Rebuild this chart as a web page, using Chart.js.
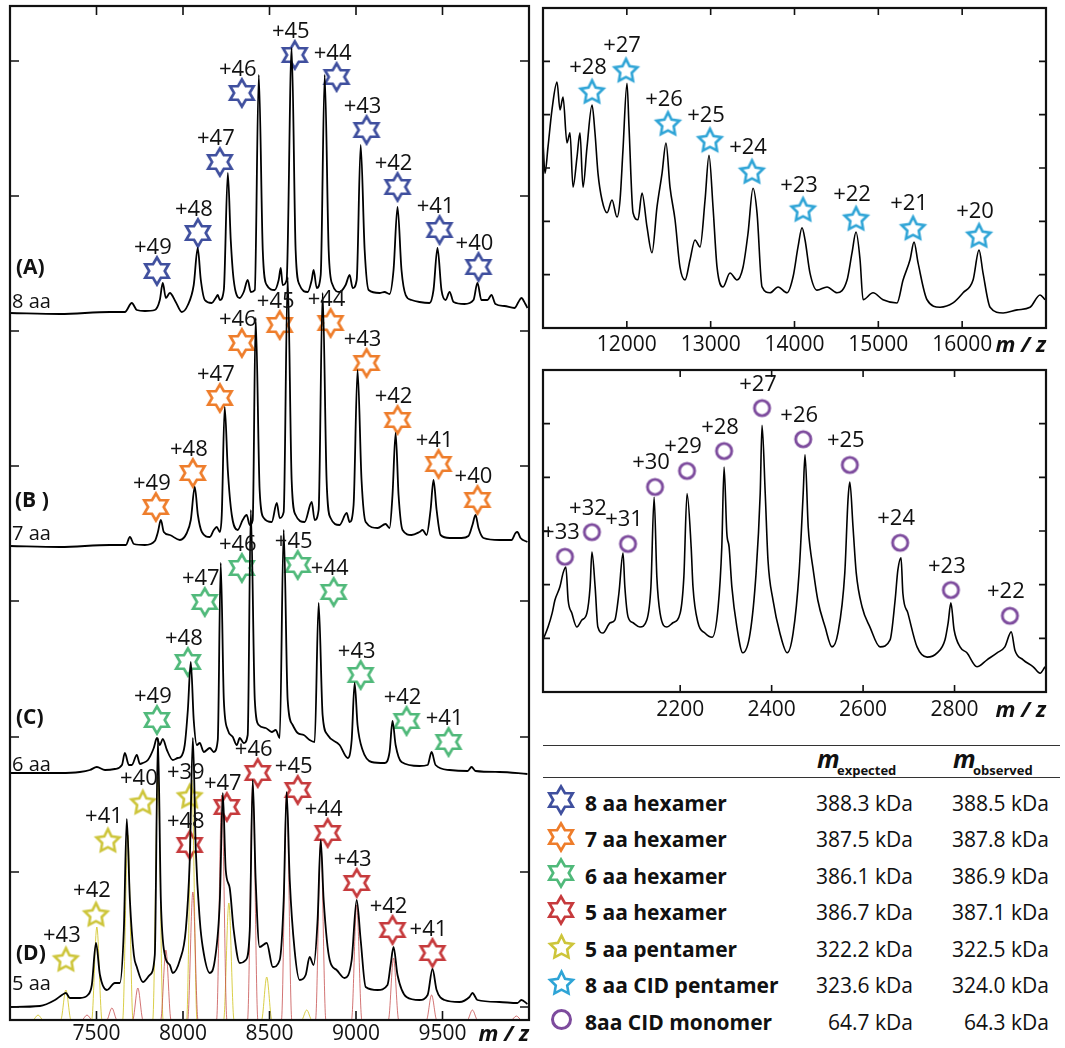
<!DOCTYPE html>
<html>
<head>
<meta charset="utf-8">
<script src="https://cdn.jsdelivr.net/npm/chart.js@4.4.1/dist/chart.umd.min.js"></script>
<style>
  html, body { margin: 0; padding: 0; background: #fff; }
  body { width: 1065px; height: 1048px; position: relative; overflow: hidden; font-family: 'Open Sans', sans-serif; color: #111; }
  canvas { position: absolute; }
  #cLeft { left: 0; top: 0; }
  #cE { left: 530px; top: 0; }
  #cF { left: 530px; top: 362px; }
  .rule { position: absolute; left: 543px; width: 517px; height: 0; border-top: 1.6px solid #333; }
  .txt { position: absolute; white-space: nowrap; line-height: 1; }
</style>
</head>
<body>
<canvas id="cLeft" width="540" height="1048"></canvas>
<canvas id="cE" width="535" height="362"></canvas>
<canvas id="cF" width="535" height="362"></canvas>
<div id="table"></div>

<script>
// ---------------- data (m/z, intensity a.u.) ----------------
// stacked spectra of the left panel, intensity relative to each trace's own baseline
const spectrumA = [[7000,0],[7289,-1],[7577,1],[7664,1],[7704,10],[7733,3],[7780,2],[7837,3],[7866,13],[7883,30],[7901,15],[7924,20],[7958,11],[7993,1],[8028,8],[8062,28],[8085,65],[8103,33],[8126,13],[8166,10],[8189,15],[8201,18],[8213,13],[8236,23],[8259,140],[8276,73],[8293,33],[8328,15],[8351,21],[8374,33],[8392,21],[8415,23],[8438,238],[8461,63],[8484,28],[8530,23],[8553,33],[8565,45],[8576,28],[8599,33],[8628,265],[8651,63],[8674,28],[8721,21],[8744,33],[8755,43],[8773,25],[8796,38],[8819,238],[8842,63],[8865,28],[8905,21],[8940,28],[8963,38],[8981,25],[9004,33],[9027,168],[9050,63],[9073,23],[9136,20],[9165,21],[9194,19],[9217,43],[9240,106],[9263,43],[9287,18],[9321,13],[9367,11],[9425,10],[9448,23],[9471,65],[9494,23],[9518,13],[9541,21],[9564,11],[9627,9],[9679,13],[9702,30],[9725,13],[9760,13],[9783,18],[9806,9],[9858,7],[9916,5],[9939,11],[9956,15],[9979,9],[9991,5]];
const spectrumB = [[7000,0],[7289,-1],[7577,1],[7670,1],[7693,9],[7716,2],[7780,1],[7837,5],[7855,14],[7872,26],[7889,14],[7924,11],[7982,6],[8022,13],[8045,26],[8068,59],[8086,31],[8109,14],[8155,9],[8178,16],[8195,19],[8213,14],[8224,31],[8241,139],[8259,76],[8282,31],[8316,16],[8345,26],[8368,31],[8386,21],[8403,26],[8420,228],[8443,56],[8467,28],[8513,24],[8542,43],[8559,28],[8582,34],[8605,269],[8628,66],[8651,31],[8703,24],[8744,44],[8761,26],[8784,36],[8807,253],[8830,66],[8853,28],[8905,21],[8946,33],[8963,24],[8986,41],[9009,176],[9032,66],[9056,24],[9125,18],[9171,22],[9194,18],[9211,51],[9229,113],[9246,51],[9269,16],[9321,11],[9367,14],[9385,16],[9408,11],[9431,36],[9448,66],[9466,36],[9489,11],[9541,8],[9610,8],[9650,10],[9673,21],[9691,31],[9708,18],[9737,8],[9829,6],[9899,6],[9922,13],[9933,14],[9951,8],[9991,4]];
const spectrumC = [[7000,0],[7289,0],[7404,1],[7462,3],[7502,6],[7549,3],[7606,4],[7647,8],[7664,20],[7687,8],[7704,8],[7733,18],[7751,9],[7768,10],[7797,13],[7831,25],[7849,35],[7866,28],[7883,34],[7907,23],[7941,13],[7970,15],[7987,16],[8010,28],[8028,63],[8045,111],[8062,53],[8080,28],[8097,30],[8120,21],[8155,25],[8178,21],[8201,33],[8218,210],[8236,73],[8259,43],[8288,36],[8311,28],[8328,35],[8351,30],[8374,38],[8392,263],[8415,73],[8438,48],[8478,45],[8513,41],[8536,43],[8559,35],[8582,243],[8605,73],[8634,48],[8663,40],[8698,38],[8732,33],[8761,31],[8784,170],[8807,58],[8836,38],[8905,28],[8952,15],[8975,33],[8992,90],[9009,48],[9038,23],[9090,11],[9165,10],[9194,21],[9211,52],[9229,28],[9263,11],[9367,7],[9414,8],[9437,21],[9460,8],[9541,3],[9645,2],[9668,6],[9691,2],[9829,1],[9991,-1]];
const spectrumD = [[7000,0],[7173,1],[7260,7],[7300,12],[7323,14],[7346,9],[7404,9],[7450,12],[7473,22],[7497,64],[7520,32],[7560,17],[7606,24],[7635,24],[7658,77],[7675,188],[7693,107],[7716,52],[7733,40],[7768,25],[7808,32],[7837,52],[7855,269],[7872,107],[7895,52],[7924,42],[7941,34],[7982,47],[8016,77],[8039,147],[8057,269],[8074,157],[8097,87],[8114,60],[8155,34],[8184,47],[8213,107],[8230,214],[8247,137],[8270,119],[8293,77],[8328,44],[8363,47],[8386,77],[8403,227],[8420,127],[8443,60],[8484,64],[8519,40],[8559,47],[8582,107],[8599,215],[8617,127],[8645,57],[8674,27],[8709,32],[8732,50],[8755,42],[8778,87],[8796,167],[8813,107],[8848,47],[8888,37],[8934,29],[8975,47],[9004,107],[9027,67],[9056,20],[9125,17],[9182,22],[9200,42],[9217,60],[9240,32],[9292,10],[9367,7],[9414,12],[9442,38],[9466,17],[9512,7],[9598,5],[9656,10],[9673,14],[9702,7],[9829,5],[9933,4],[9956,7],[9991,3]];

// simulated peaks under spectrum D
const pentSimMz  = [7162, 7323, 7502, 7681, 7855, 8051, 8265, 8484, 8715];
const pentSimInt = [5, 30, 93, 185, 243, 240, 117, 43, 10];
const hexSimMz   = [7445, 7589, 7739, 7901, 8057, 8224, 8403, 8599, 8796, 9004, 9217, 9437, 9673, 9927];
const hexSimInt  = [5, 12, 32, 70, 128, 225, 235, 228, 180, 115, 62, 25, 10, 4];

// charge-state markers (m/z, height above the trace baseline)
const chargesA = [49, 48, 47, 46, 45, 44, 43, 42, 41, 40];
const starMzA  = [7849, 8086, 8213, 8340, 8646, 8888, 9061, 9240, 9483, 9708];
const starHA   = [42, 80, 151, 220, 258, 236, 183, 126, 83, 46];
const chargesB = [49, 48, 47, 46, 45, 44, 43, 42, 41, 40];
const starMzB  = [7843, 8057, 8213, 8340, 8559, 8853, 9061, 9240, 9477, 9702];
const starHB   = [39, 73, 148, 203, 221, 223, 183, 126, 82, 46];
const chargesC = [49, 48, 47, 46, 45, 44, 43, 42, 41];
const starMzC  = [7849, 8028, 8126, 8340, 8663, 8871, 9027, 9292, 9535];
const starHC   = [53, 111, 171, 205, 208, 181, 98, 52, 31];
const chargesDhex = [48, 47, 46, 45, 44, 43, 42, 41];
const starMzDhex  = [8039, 8253, 8432, 8663, 8836, 9004, 9211, 9442];
const starHDhex   = [162, 200, 234, 217, 174, 124, 77, 54];
const chargesDpent = [43, 42, 41, 40, 39];
const starMzDpent  = [7323, 7497, 7566, 7768, 8039];
const starHDpent   = [48, 93, 167, 205, 211];

// panel E (CID pentamer)
const spectrumE = [[11000,3.47],[11024,2.9],[11060,3.4],[11107,4.09],[11167,4.61],[11203,4.09],[11239,4.33],[11286,3.47],[11322,3.66],[11358,2.64],[11406,3.21],[11441,3.66],[11477,2.64],[11525,3.39],[11585,4.18],[11620,3.66],[11656,2.9],[11704,2.4],[11764,2.16],[11823,2.4],[11883,2.08],[11919,2.4],[11954,3.34],[12002,4.59],[12026,3.77],[12074,2.16],[12133,2.03],[12181,2.53],[12241,1.89],[12300,1.41],[12360,2.27],[12420,2.9],[12467,3.47],[12515,2.64],[12575,2.03],[12634,1.14],[12694,0.9],[12754,1.28],[12813,1.65],[12873,1.52],[12933,2.4],[12980,3.24],[13028,2.27],[13076,1.14],[13147,0.77],[13231,1.03],[13314,0.9],[13386,1.14],[13446,1.78],[13505,2.62],[13553,2.16],[13613,0.77],[13708,0.66],[13804,0.77],[13911,0.66],[13983,0.96],[14042,1.52],[14090,1.88],[14126,1.65],[14185,1.03],[14269,0.71],[14388,0.77],[14507,0.66],[14627,0.9],[14686,1.41],[14734,1.8],[14782,1.28],[14818,0.53],[14937,0.66],[15056,0.53],[15223,0.47],[15295,0.9],[15378,1.28],[15426,1.61],[15474,1.22],[15581,0.53],[15736,0.39],[15891,0.47],[16011,0.66],[16130,0.9],[16201,1.46],[16249,1.03],[16333,0.39],[16488,0.28],[16655,0.34],[16810,0.39],[16929,0.62],[16989,0.53]];
const chargesE = [28, 27, 26, 25, 24, 23, 22, 21, 20];
const starMzE  = [11585, 11990, 12491, 12992, 13493, 14102, 14734, 15414, 16201];
const starYE   = [4.44, 4.84, 3.84, 3.53, 2.94, 2.23, 2.06, 1.88, 1.74];

// panel F (CID monomer)
const spectrumF = [[1900,0.97],[1911,1.21],[1920,1.47],[1926,1.71],[1937,1.96],[1944,2.22],[1950,2.33],[1955,1.71],[1963,1.47],[1974,1.21],[1985,1.34],[1996,1.47],[2003,1.96],[2007,2.61],[2014,1.96],[2020,1.21],[2031,1.1],[2047,1.29],[2057,1.34],[2066,1.84],[2075,2.59],[2079,1.96],[2086,1.4],[2097,1.29],[2112,1.21],[2127,1.34],[2136,1.96],[2143,3.63],[2149,2.14],[2156,1.47],[2171,1.21],[2184,1.29],[2200,1.47],[2208,2.14],[2215,3.7],[2224,2.7],[2228,1.96],[2239,1.29],[2254,1.1],[2270,1.02],[2283,1.58],[2291,2.7],[2296,4.19],[2302,2.96],[2307,2.7],[2313,1.96],[2324,1.21],[2337,0.73],[2353,1.1],[2366,2.22],[2375,3.7],[2379,4.97],[2386,3.7],[2392,2.46],[2403,1.71],[2418,1.1],[2434,0.73],[2447,1.1],[2460,2.22],[2469,3.7],[2473,4.42],[2480,3.07],[2484,2.7],[2490,2.33],[2501,1.71],[2517,1.21],[2532,0.84],[2545,1.1],[2560,2.22],[2567,3.58],[2571,3.91],[2578,3.07],[2585,2.22],[2598,1.58],[2615,1.21],[2637,0.84],[2659,0.97],[2670,1.71],[2676,2.27],[2683,2.5],[2687,1.84],[2698,1.47],[2718,0.84],[2740,0.65],[2762,0.73],[2779,0.97],[2786,1.29],[2792,1.66],[2799,1.16],[2812,0.84],[2827,0.73],[2849,0.47],[2871,0.6],[2893,0.73],[2910,0.84],[2924,1.12],[2932,0.78],[2950,0.6],[2972,0.47],[2987,0.35],[2998,0.47]];
const chargesF = [33, 32, 31, 30, 29, 28, 27, 26, 25, 24, 23, 22];
const circleMzF = [1948, 2007, 2086, 2145, 2215, 2296, 2379, 2469, 2571, 2681, 2792, 2921];
const circleYF  = [2.52, 2.98, 2.76, 3.82, 4.12, 4.49, 5.29, 4.71, 4.23, 2.78, 1.9, 1.42];

// unlabeled y ticks of the left panel (a.u.)
const leftYTicks = [0, 135, 270, 406, 541, 676, 811, 946];

// table
const legendNames   = ['8 aa hexamer', '7 aa hexamer', '6 aa hexamer', '5 aa hexamer', '5 aa pentamer', '8 aa CID pentamer', '8aa CID monomer'];
const massExpected  = ['388.3 kDa', '387.5 kDa', '386.1 kDa', '386.7 kDa', '322.2 kDa', '323.6 kDa', '64.7 kDa'];
const massObserved  = ['388.5 kDa', '387.8 kDa', '386.9 kDa', '387.1 kDa', '322.5 kDa', '324.0 kDa', '64.3 kDa'];

// ---------------- style ----------------
const FONT = "'Open Sans', sans-serif";
const COLORS = {
  blue: '#3f4f9e', orange: '#ee7d2b', green: '#50b97a', red: '#c63a3c',
  yellow: '#cdc53a', cyan: '#2ea4d6', purple: '#7d4b9d'
};
const stackOffset = { A: 694, B: 461, C: 234, D: 0, sim: -13 };
const SIM_HALF_WIDTH = 30;

function makeMarker(shape, color, R, lw) {
  const size = Math.ceil(2 * R + lw + 4);
  const c = document.createElement('canvas');
  c.width = c.height = size;
  const g = c.getContext('2d');
  g.translate(size / 2, size / 2 + (shape === 'pent' ? R * 0.1 : 0));
  g.strokeStyle = color;
  g.lineWidth = lw;
  g.lineJoin = 'miter';
  g.beginPath();
  if (shape === 'circle') {
    g.arc(0, 0, R, 0, Math.PI * 2);
  } else {
    const n = shape === 'hex' ? 6 : 5;
    const r = shape === 'hex' ? R / Math.sqrt(3) : R * 0.5;
    for (let k = 0; k < 2 * n; k++) {
      const ang = -Math.PI / 2 + k * Math.PI / n;
      const rr = k % 2 ? r : R;
      g.lineTo(rr * Math.cos(ang), rr * Math.sin(ang));
    }
    g.closePath();
  }
  g.stroke();
  return c;
}

function toPoints(pairs, offset) {
  return pairs.map(p => ({ x: p[0], y: p[1] + (offset || 0) }));
}

function simLine(mz, h, base, xmin, xmax) {
  const pts = [{ x: xmin, y: base }];
  mz.forEach((m, i) => {
    pts.push({ x: m - SIM_HALF_WIDTH, y: base }, { x: m, y: base + h[i] }, { x: m + SIM_HALF_WIDTH, y: base });
  });
  pts.push({ x: xmax, y: base });
  return pts;
}

function traceDs(points, color, width, order) {
  return {
    type: 'line', data: points, borderColor: color, borderWidth: width,
    pointRadius: 0, fill: false, order,
    cubicInterpolationMode: 'monotone', borderJoinStyle: 'round'
  };
}

function markerDs(xs, ys, labels, marker) {
  return {
    type: 'line', data: xs.map((x, i) => ({ x, y: ys[i] })), showLine: false,
    pointStyle: marker, pointRadius: 5, chargeLabels: labels, order: 10
  };
}

function xAxis(min, max, step, height, pad) {
  return {
    type: 'linear', min, max,
    grid: { display: false, drawTicks: false }, border: { display: false },
    ticks: {
      stepSize: step, color: '#111', padding: pad, maxRotation: 0, autoSkip: false,
      font: { family: FONT, size: 21 }, callback: v => String(v)
    },
    afterBuildTicks: s => { s.ticks = s.ticks.filter(t => t.value > min && t.value < max); },
    afterFit: s => { s.height = height; }
  };
}

function yAxis(min, max, step, fixedTicks) {
  return {
    type: 'linear', min, max,
    grid: { display: false, drawTicks: false }, border: { display: false },
    ticks: { display: false, stepSize: step },
    afterBuildTicks: s => {
      s.ticks = fixedTicks ? fixedTicks.map(v => ({ value: v }))
                           : s.ticks.filter(t => t.value > min && t.value < max);
    },
    afterFit: s => { s.width = 0; }
  };
}

// frame, inward ticks, unit label, charge labels and panel texts
function decor(cfg) {
  return {
    id: 'decor',
    afterDatasetsDraw(chart) {
      const { ctx, chartArea: a, scales: { x, y } } = chart;
      ctx.save();
      ctx.strokeStyle = '#111';
      ctx.lineWidth = 1.6;
      ctx.beginPath();
      x.ticks.forEach(t => {
        const px = x.getPixelForValue(t.value);
        ctx.moveTo(px, a.top); ctx.lineTo(px, a.top + cfg.tick);
        ctx.moveTo(px, a.bottom); ctx.lineTo(px, a.bottom - cfg.tick);
      });
      y.ticks.forEach(t => {
        const py = y.getPixelForValue(t.value);
        ctx.moveTo(a.left, py); ctx.lineTo(a.left + cfg.tick, py);
        ctx.moveTo(a.right, py); ctx.lineTo(a.right - cfg.tick, py);
      });
      ctx.stroke();
      ctx.lineWidth = 2.2;
      ctx.strokeRect(a.left, a.top, a.right - a.left, a.bottom - a.top);

      ctx.fillStyle = '#111';
      ctx.textBaseline = 'alphabetic';
      // charge labels above the markers
      ctx.font = '22px ' + FONT;
      ctx.textAlign = 'center';
      chart.data.datasets.forEach((ds, i) => {
        if (!ds.chargeLabels) return;
        chart.getDatasetMeta(i).data.forEach((el, k) => {
          ctx.fillText('+' + ds.chargeLabels[k], el.x - 4, el.y - 17.5);
        });
      });
      // unit
      ctx.font = 'italic 700 22px ' + FONT;
      ctx.textAlign = 'right';
      ctx.fillText('m / z', a.right, a.bottom + cfg.unitBaseline);
      // panel texts
      ctx.textAlign = 'left';
      (cfg.texts || []).forEach(t => {
        ctx.font = (t.bold ? '700 ' : '') + t.size + 'px ' + FONT;
        ctx.fillText(t.text, t.x, t.y);
      });
      ctx.restore();
    }
  };
}

const baseOptions = {
  responsive: false, animation: false, events: [],
  plugins: { legend: { display: false }, tooltip: { enabled: false } }
};

const hexMarker = c => makeMarker('hex', c, 13.5, 2.7);
const pentMarker = c => makeMarker('pent', c, 12, 2.6);
const ys = (h, off) => h.map(v => v + off);

// ---------------- left panel ----------------
const charts = [];
charts.push(new Chart(document.getElementById('cLeft'), {
  type: 'line',
  data: {
    datasets: [
      markerDs(starMzA, ys(starHA, stackOffset.A), chargesA, hexMarker(COLORS.blue)),
      markerDs(starMzB, ys(starHB, stackOffset.B), chargesB, hexMarker(COLORS.orange)),
      markerDs(starMzC, ys(starHC, stackOffset.C), chargesC, hexMarker(COLORS.green)),
      markerDs(starMzDhex, ys(starHDhex, stackOffset.D), chargesDhex, hexMarker(COLORS.red)),
      markerDs(starMzDpent, ys(starHDpent, stackOffset.D), chargesDpent, pentMarker(COLORS.yellow)),
      traceDs(simLine(pentSimMz, pentSimInt, stackOffset.sim, 7000, 10000), 'rgba(210,198,40,0.85)', 1, 5),
      traceDs(simLine(hexSimMz, hexSimInt, stackOffset.sim, 7000, 10000), 'rgba(195,70,70,0.75)', 1, 4),
      traceDs(toPoints(spectrumD, stackOffset.D), '#000', 1.8, 1),
      traceDs(toPoints(spectrumC, stackOffset.C), '#000', 1.8, 1),
      traceDs(toPoints(spectrumB, stackOffset.B), '#000', 1.8, 1),
      traceDs(toPoints(spectrumA, stackOffset.A), '#000', 1.8, 1)
    ]
  },
  options: Object.assign({}, baseOptions, {
    layout: { padding: { left: 10, top: 6, right: 11, bottom: 0 } },
    scales: { x: xAxis(7000, 10000, 500, 28, 1.5), y: yAxis(-13, 1001, 135, leftYTicks) }
  }),
  plugins: [decor({
    tick: 9, unitBaseline: 21,
    texts: [
      { text: '(A)', x: 16, y: 274, size: 21, bold: true },
      { text: '8 aa', x: 12, y: 308, size: 20 },
      { text: '(B )', x: 15, y: 507, size: 21, bold: true },
      { text: '7 aa', x: 12, y: 540, size: 20 },
      { text: '(C)', x: 16, y: 724, size: 21, bold: true },
      { text: '6 aa', x: 12, y: 771, size: 20 },
      { text: '(D)', x: 16, y: 960, size: 21, bold: true },
      { text: '5 aa', x: 12, y: 990, size: 20 }
    ]
  })]
}));

// ---------------- panel E ----------------
charts.push(new Chart(document.getElementById('cE'), {
  type: 'line',
  data: {
    datasets: [
      markerDs(starMzE, starYE, chargesE, pentMarker(COLORS.cyan)),
      traceDs(toPoints(spectrumE), '#000', 1.6, 1)
    ]
  },
  options: Object.assign({}, baseOptions, {
    layout: { padding: { left: 13, top: 8, right: 19, bottom: 0 } },
    scales: { x: xAxis(11000, 17000, 1000, 34, 4), y: yAxis(0, 6, 1) }
  }),
  plugins: [decor({ tick: 7, unitBaseline: 24, texts: [{ text: '(E)', x: 990, y: 55, size: 21, bold: true }] })]
}));

// ---------------- panel F ----------------
charts.push(new Chart(document.getElementById('cF'), {
  type: 'line',
  data: {
    datasets: [
      markerDs(circleMzF, circleYF, chargesF, makeMarker('circle', COLORS.purple, 7.6, 2.9)),
      traceDs(toPoints(spectrumF), '#000', 1.6, 1)
    ]
  },
  options: Object.assign({}, baseOptions, {
    layout: { padding: { left: 13, top: 8, right: 19, bottom: 0 } },
    scales: { x: xAxis(1900, 3000, 200, 32, 5), y: yAxis(0, 6, 1) }
  }),
  plugins: [decor({ tick: 7, unitBaseline: 25, texts: [{ text: '(F)', x: 990, y: 55, size: 21, bold: true }] })]
}));

// ---------------- table ----------------
const tableMarkers = [
  hexMarker(COLORS.blue), hexMarker(COLORS.orange), hexMarker(COLORS.green), hexMarker(COLORS.red),
  pentMarker(COLORS.yellow), pentMarker(COLORS.cyan), makeMarker('circle', COLORS.purple, 9, 3)
];
const table = document.getElementById('table');
function addText(text, css) {
  const d = document.createElement('div');
  d.className = 'txt';
  d.textContent = text;
  Object.assign(d.style, css);
  table.appendChild(d);
  return d;
}
[745, 777].forEach(y => {
  const r = document.createElement('div');
  r.className = 'rule';
  r.style.top = y + 'px';
  table.appendChild(r);
});
// header: m_expected, m_observed (baseline = top + 0.888 * size)
addText('m', { left: '817px', top: (763 - 0.888 * 25) + 'px', font: "italic 700 25px 'Open Sans'" });
addText('expected', { left: '837px', top: (773 - 0.888 * 13) + 'px', font: "700 13px 'Open Sans'" });
addText('m', { left: '953px', top: (763 - 0.888 * 25) + 'px', font: "italic 700 25px 'Open Sans'" });
addText('observed', { left: '973px', top: (773 - 0.888 * 13) + 'px', font: "700 13px 'Open Sans'" });

legendNames.forEach((name, i) => {
  const base = 807.5 + i * 36.5;
  const top = (base - 0.888 * 21) + 'px';
  addText(name, { left: '585px', top, font: "700 21px 'Open Sans'" });
  addText(massExpected[i], { right: (1065 - 913) + 'px', top, font: "21px 'Open Sans'" });
  addText(massObserved[i], { right: (1065 - 1049) + 'px', top, font: "21px 'Open Sans'" });
  const m = tableMarkers[i];
  m.style.left = (561 - m.width / 2) + 'px';
  m.style.top = (base - 7.5 - m.height / 2) + 'px';
  table.appendChild(m);
});

if (document.fonts && document.fonts.ready) {
  document.fonts.ready.then(() => charts.forEach(c => c.update()));
}
</script>
</body>
</html>
